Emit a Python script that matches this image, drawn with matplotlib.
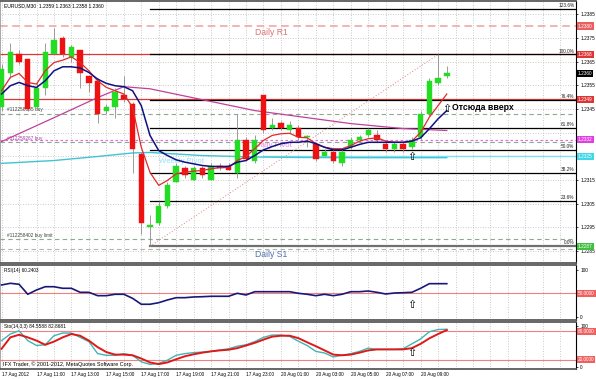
import matplotlib
matplotlib.use("Agg")
import matplotlib.pyplot as plt
import matplotlib.transforms as mtransforms

# ---------------- data ----------------
time_labels = ["17 Aug 2012", "17 Aug 11:00", "17 Aug 13:00", "17 Aug 15:00",
               "17 Aug 17:00", "17 Aug 19:00", "17 Aug 21:00", "17 Aug 23:00",
               "20 Aug 01:00", "20 Aug 03:00", "20 Aug 05:00", "20 Aug 07:00",
               "20 Aug 09:00"]

opens = [1.2346, 1.2360, 1.2368, 1.2366, 1.2346, 1.2354, 1.2368, 1.2375, 1.2367, 1.2370,
         1.2359, 1.2357, 1.2344, 1.2346, 1.2351, 1.2347, 1.2326, 1.2295, 1.2297, 1.2304,
         1.2314, 1.2320, 1.2315, 1.2320, 1.2315, 1.2321, 1.2321, 1.2318, 1.2332, 1.2323,
         1.2351, 1.2337, 1.2339, 1.2336, 1.2337, 1.2333, 1.2330, 1.2325, 1.2327, 1.2322,
         1.2329, 1.2332, 1.2334, 1.2334, 1.2330, 1.2328, 1.2330, 1.2329, 1.2333, 1.2343,
         1.2356, 1.2359]
highs = [1.2364, 1.2373, 1.2370, 1.2366, 1.2356, 1.2373, 1.2379, 1.2376, 1.2372, 1.2370,
         1.2359, 1.2358, 1.2347, 1.2354, 1.2359, 1.2348, 1.2327, 1.2300, 1.2306, 1.2314,
         1.2322, 1.2321, 1.2321, 1.2321, 1.2322, 1.2322, 1.2322, 1.2343, 1.2333, 1.2334,
         1.2351, 1.2341, 1.2340, 1.2340, 1.2338, 1.2334, 1.2331, 1.2328, 1.2328, 1.2328,
         1.2333, 1.2334, 1.2337, 1.2336, 1.2331, 1.2331, 1.2331, 1.2333, 1.2344, 1.2358,
         1.2368, 1.2363]
lows = [1.2344, 1.2358, 1.2364, 1.2344, 1.2345, 1.2351, 1.2368, 1.2367, 1.2365, 1.2354,
        1.2352, 1.2339, 1.2343, 1.2341, 1.2348, 1.2318, 1.2292, 1.2287, 1.2296, 1.2303,
        1.2314, 1.2316, 1.2315, 1.2316, 1.2315, 1.2319, 1.2319, 1.2316, 1.2323, 1.2322,
        1.2335, 1.2336, 1.2336, 1.2335, 1.2332, 1.2329, 1.2323, 1.2325, 1.2322, 1.2321,
        1.2328, 1.2331, 1.2333, 1.2331, 1.2327, 1.2327, 1.2327, 1.2328, 1.2332, 1.2342,
        1.2355, 1.2358]
closes = [1.2362, 1.2369, 1.2365, 1.2345, 1.2354, 1.2369, 1.2374, 1.2368, 1.2371, 1.2360,
          1.2356, 1.2343, 1.2346, 1.2352, 1.2349, 1.2328, 1.2297, 1.2296, 1.2304, 1.2313,
          1.2321, 1.2317, 1.2320, 1.2317, 1.2321, 1.2320, 1.2319, 1.2332, 1.2324, 1.2332,
          1.2336, 1.2338, 1.2337, 1.2338, 1.2333, 1.2333, 1.2324, 1.2327, 1.2323, 1.2327,
          1.2332, 1.2333, 1.2336, 1.2332, 1.2328, 1.2330, 1.2328, 1.2332, 1.2343, 1.2357,
          1.2358, 1.2360]

ma_fast = [1.23527, 1.23583, 1.23600, 1.23562, 1.23555, 1.23611, 1.23646, 1.23656, 1.23670, 1.23646,
           1.23611, 1.23569, 1.23541, 1.23527, 1.23513, 1.23457, 1.23288, 1.23182, 1.23127, 1.23148,
           1.23176, 1.23183, 1.23187, 1.23190, 1.23197, 1.23202, 1.23202, 1.23232, 1.23249, 1.23282,
           1.23317, 1.23338, 1.23345, 1.23347, 1.23330, 1.23328, 1.23303, 1.23288, 1.23282, 1.23282,
           1.23295, 1.23314, 1.23324, 1.23328, 1.23314, 1.23309, 1.23309, 1.23314, 1.23351, 1.23415,
           1.23464, 1.23513]
ma_slow = [1.23513, 1.23548, 1.23562, 1.23548, 1.23541, 1.23569, 1.23611, 1.23628, 1.23628, 1.23623,
           1.23604, 1.23576, 1.23558, 1.23548, 1.23544, 1.23527, 1.23464, 1.23338, 1.23274, 1.23253,
           1.23235, 1.23225, 1.23218, 1.23211, 1.23207, 1.23207, 1.23207, 1.23225, 1.23232, 1.23253,
           1.23277, 1.23291, 1.23303, 1.23309, 1.23309, 1.23314, 1.23303, 1.23288, 1.23277, 1.23277,
           1.23288, 1.23300, 1.23309, 1.23309, 1.23309, 1.23309, 1.23309, 1.23314, 1.23328, 1.23366,
           1.23408, 1.23443]
ma_long_idx = [0, 6, 11, 14, 17, 23, 29, 34, 40, 46, 51]
ma_long = [1.23312, 1.23413, 1.23498, 1.23544, 1.23535, 1.23489, 1.23443, 1.23418, 1.23388, 1.23367, 1.23359]
ma_vlong_idx = [0, 6, 11, 15, 17, 23, 29, 34, 40, 46, 51]
ma_vlong = [1.23220, 1.23232, 1.23249, 1.23264, 1.23266, 1.23253, 1.23247, 1.23245, 1.23244, 1.23244, 1.23244]

rsi = [67.9, 71.5, 69.4, 48.0, 57.2, 64.2, 64.2, 60.8, 60.8, 52.2,
       52.2, 45.0, 45.0, 48.0, 48.0, 39.4, 26.6, 26.6, 30.0, 35.8,
       40.7, 40.7, 42.2, 42.8, 43.7, 43.7, 43.7, 50.1, 46.5, 53.5,
       53.5, 53.5, 53.5, 53.5, 50.1, 48.0, 45.0, 48.0, 45.0, 48.0,
       53.5, 53.5, 55.0, 52.2, 48.6, 50.7, 51.4, 52.2, 60.8, 70.7,
       70.7, 70.7]
stoch_main = [60.4, 74.4, 81.3, 60.4, 50.0, 51.5, 70.8, 76.5, 76.5, 67.3,
              58.3, 32.7, 29.2, 29.2, 32.7, 29.2, 15.2, 9.8, 11.9, 18.8,
              29.2, 32.7, 34.8, 36.0, 37.5, 40.2, 43.1, 48.5, 51.5, 58.3,
              67.3, 72.3, 72.3, 69.4, 59.0, 50.0, 37.5, 34.0, 25.6, 29.2,
              32.7, 37.5, 44.4, 41.7, 41.7, 41.7, 43.1, 53.5, 64.0, 79.2,
              84.0, 84.6]
stoch_signal = [43.1, 67.3, 72.9, 67.3, 60.4, 51.5, 58.3, 67.3, 74.4, 70.8,
                60.4, 46.5, 36.0, 30.6, 30.6, 29.2, 22.3, 14.0, 10.4, 14.0,
                20.8, 27.1, 31.3, 34.8, 37.5, 39.6, 41.0, 44.4, 50.0, 55.6,
                62.5, 68.8, 70.8, 70.8, 65.6, 56.9, 48.5, 39.6, 30.6, 29.2,
                30.6, 34.8, 39.6, 41.7, 41.7, 41.7, 41.7, 44.4, 53.5, 65.2,
                74.4, 82.9]

fib_levels = [1.23871, 1.2368, 1.23489, 1.23371, 1.23275, 1.23179, 1.23061, 1.2287]
fib_names = ["123.6%", "100.0%", "76.4%", "61.8%", "50.0%", "38.2%", "23.6%", "0.0%"]
price_ticks = [1.2285, 1.2295, 1.2305, 1.2315, 1.2345, 1.2355, 1.2365, 1.2375, 1.2385]
grid_prices = [1.2285, 1.2295, 1.2305, 1.2315, 1.2325, 1.2335, 1.2345, 1.2355, 1.2365, 1.2375, 1.2385]
daily_r1 = 1.2380
daily_pivot = 1.2332
weekly_pivot = 1.2325
daily_s1 = 1.2286
order_lines = [1.2343, 1.2331, 1.2290]
order_names = ["#112258385 buy", "#112259267 buy", "#112258402 buy limit"]
red_levels = [1.2368, 1.2349]
current_price = 1.2360

# ---------------- layout ----------------
W, H = 596, 379
FONT = "Liberation Sans"
plt.rcParams["font.family"] = [FONT, "DejaVu Sans"]
fig = plt.figure(figsize=(W / 100, H / 100), dpi=100)
fig.patch.set_facecolor("white")
RX = 576 / W
ax = fig.add_axes([0, 1 - 263 / H, RX, 262 / H])
ax_rsi = fig.add_axes([0, 1 - 320 / H, RX, 55 / H])
ax_sto = fig.add_axes([0, 1 - 369 / H, RX, 47 / H])

XMIN, XMAX = -0.183, 65.8
n = len(opens)
xs = list(range(n))
TS = 3.4

for a in (ax, ax_rsi, ax_sto):
    a.set_xlim(XMIN, XMAX)
    a.set_xticks([])
    for s in a.spines.values():
        s.set_color("#5a5a5a")
        s.set_linewidth(1.3)
    a.spines["right"].set_color("black")
    a.spines["right"].set_linewidth(0.8)
    a.spines["left"].set_color("#9a9a9a")
    a.spines["left"].set_linewidth(0.6)
    for gx in range(0, 66, 2):
        a.axvline(gx, color="#c4c4c4", ls=(0, (1.2, 1.8)), lw=0.6, zorder=0)
    a.yaxis.tick_right()
    a.tick_params(axis="y", length=1.5, width=0.5, pad=1.5, labelsize=TS, colors="black")

# ---------------- main panel ----------------
ax.set_ylim(1.22799, 1.23906)
for gp in grid_prices:
    ax.axhline(gp, color="#c4c4c4", ls=(0, (1.2, 1.8)), lw=0.6, zorder=0)
ax.set_yticks(price_ticks)
ax.set_yticklabels([f"{p:.4f}" for p in price_ticks])

ytr = ax.get_yaxis_transform()

# horizontal levels
ax.axhline(daily_r1, color="#f0a0a0", ls=(0, (5, 3)), lw=1.1, zorder=1)
ax.text(29, daily_r1 - 0.00010, "Daily R1", color="#e07070", fontsize=6.2, va="top", ha="left", zorder=2)
for rl in red_levels:
    ax.axhline(rl, color="#e03535", lw=0.9, zorder=2)
ax.axhline(daily_pivot, color="#e070e0", ls=(0, (2, 2)), lw=0.9, zorder=1)
ax.text(29, daily_pivot - 0.00008, "Daily Pivot", color="#e888e8", fontsize=5.6, va="top", ha="left", zorder=1)
ax.plot([30, XMAX], [weekly_pivot, weekly_pivot], color="#80e0f0", lw=1.0, zorder=1)
ax.text(18, weekly_pivot - 0.00006, "Weekly Pivot", color="#90e4f4", fontsize=5.6, va="top", ha="left", zorder=1)
ax.axhline(daily_s1, color="#a8b8a8", ls=(0, (4, 3)), lw=0.8, zorder=1)
ax.text(29, daily_s1 - 0.00008, "Daily S1", color="#5070b0", fontsize=6.2, va="top", ha="left", zorder=2)
for ol, on, oc in zip(order_lines, order_names, ["#404040", "#a040a0", "#404040"]):
    ax.axhline(ol, color="#90a890", ls=(0, (4, 3)), lw=0.8, zorder=1)
    ax.text(0.6, ol + 0.00005, on, color=oc, fontsize=TS, va="bottom", ha="left", zorder=2)

# fibonacci
for fl, fn in zip(fib_levels, fib_names):
    col = "#707070" if fn == "0.0%" else "black"
    lw = 1.6 if fn == "0.0%" else 0.9
    ax.plot([17, XMAX], [fl, fl], color=col, lw=lw, zorder=2)
    ax.text(XMAX - 0.2, fl + 0.00004, fn, fontsize=TS, ha="right", va="bottom", color="#202020", zorder=3)
ax.plot([17, 50], [lows[17], highs[50]], color="#e08080", ls=(0, (1, 2)), lw=0.7, zorder=2)

# moving averages
ax.plot(ma_long_idx, ma_long, color="#c0409c", lw=0.9, zorder=3)
ax.plot(ma_vlong_idx, ma_vlong, color="#40c4d4", lw=1.0, zorder=3)

# candles
bull, bear = "#22dd22", "#ee1111"
ax.vlines(xs, lows, highs, color="#8c8c8c", lw=0.6, zorder=4)
bottoms = [min(o, c) for o, c in zip(opens, closes)]
heights = [max(abs(c - o), 0.00004) for o, c in zip(opens, closes)]
colors = [bull if c >= o else bear for o, c in zip(opens, closes)]
ax.bar(xs, heights, bottom=bottoms, width=0.62, color=colors, edgecolor=colors, linewidth=0.3, zorder=5)

ax.plot(xs, ma_fast, color="#e02a2a", lw=0.9, zorder=6)
ax.plot(xs, ma_slow, color="#101080", lw=1.1, zorder=6)

# annotations
ax.text(0.3, 1.23885, "EURUSD,M30  1.2359 1.2363 1.2358 1.2360", fontsize=3.6, va="center", ha="left", zorder=7)
ax.text(47, 1.23245, "\u21e7", fontsize=8, ha="center", va="center", family="DejaVu Sans", zorder=7)
ax.text(51, 1.23450, "\u21e7", fontsize=8, ha="center", va="center", family="DejaVu Sans", zorder=7)
ax.text(51.55, 1.23455, "Отсюда вверх", fontsize=6.3, fontweight="bold", ha="left", va="center", zorder=7)

def box(a, y, s, fc, tc="white"):
    a.text(1.003, y, s, transform=a.get_yaxis_transform(), fontsize=TS, color=tc, va="center", ha="left",
           bbox=dict(boxstyle="square,pad=0.25", fc=fc, ec="none"), clip_on=False, zorder=10)

box(ax, daily_r1, "1.2380", "#e86060")
box(ax, red_levels[0], "1.2368", "#e03535")
box(ax, current_price, "1.2360", "black")
box(ax, red_levels[1], "1.2349", "#e03535")
box(ax, daily_pivot, "1.2332", "#e040e0")
box(ax, weekly_pivot, "1.2325", "#40d8e8")
box(ax, fib_levels[-1], "1.2287", "#40c040")

# ---------------- RSI ----------------
ax_rsi.set_ylim(-7.1, 110.7)
ax_rsi.axhline(50, color="#f08080", lw=0.8, zorder=1)
ax_rsi.plot(xs, rsi, color="#18187a", lw=1.2, zorder=3)
ax_rsi.set_yticks([0, 100])
ax_rsi.set_yticklabels(["0", "100"])
box(ax_rsi, 50, "50.0000", "#f06060")
ax_rsi.text(0.007, 0.9, "RSI(14) 60.2403", transform=ax_rsi.transAxes, fontsize=TS, va="center", ha="left")
ax_rsi.text(47, 25, "\u21e7", fontsize=8, ha="center", va="center", family="DejaVu Sans", zorder=7)

# ---------------- Stochastic ----------------
ax_sto.set_ylim(0, 100)
ax_sto.axhline(80, color="#f08080", lw=0.8, zorder=1)
ax_sto.axhline(20, color="#f08080", lw=0.8, zorder=1)
ax_sto.plot(xs, stoch_main, color="#40b4b4", lw=1.0, zorder=3)
ax_sto.plot(xs, stoch_signal, color="#e01818", lw=1.4, zorder=4)
ax_sto.set_yticks([4, 92])
ax_sto.set_yticklabels(["0", "100"])
box(ax_sto, 80, "80.0000", "#f06060")
box(ax_sto, 20, "20.0000", "#f06060")
ax_sto.text(0.007, 0.91, "Sto(14,3,3) 84.5588 82.8681", transform=ax_sto.transAxes, fontsize=TS, va="center", ha="left")
ax_sto.text(0.005, 0.11, "IFX Trader, \u00a9 2001-2012, MetaQuotes Software Corp.", transform=ax_sto.transAxes,
            fontsize=3.9, va="center", ha="left", zorder=8)
ax_sto.text(47, 35, "\u21e7", fontsize=8, ha="center", va="center", family="DejaVu Sans", zorder=7)

# time labels
btr = mtransforms.blended_transform_factory(ax_sto.transData, ax_sto.transAxes)
for k, lab in enumerate(time_labels):
    ax_sto.text(4 * k, -0.11, lab, transform=btr, fontsize=TS, ha="left", va="center", clip_on=False)

fig.savefig("out.png", dpi=100, facecolor="white")
